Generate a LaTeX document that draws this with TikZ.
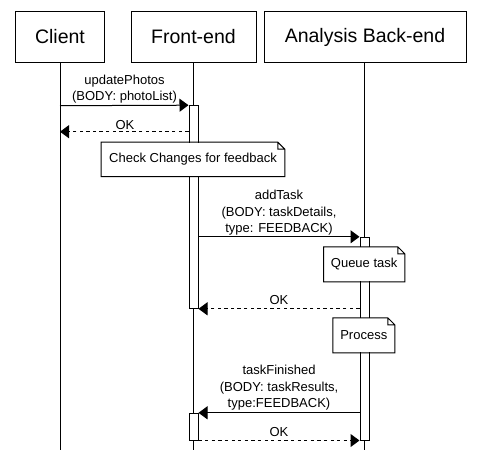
\documentclass[tikz,border=0pt]{standalone}
\usepackage{fontspec}
\setmainfont{Liberation Sans}
\usetikzlibrary{arrows.meta}
\begin{document}
\begin{tikzpicture}[x=1pt,y=-1pt, line width=1pt,
 head/.style={draw, fill=white, minimum height=50.6pt, inner sep=0pt, font=\fontsize{19.5}{22}\selectfont},
 act/.style={draw, fill=white, minimum width=9pt, inner sep=0pt},
 msg/.style={draw, -{Triangle[length=9pt,width=13pt]}},
 reply/.style={msg, dash pattern=on 3.3pt off 3.3pt},
 lbl/.style={font=\fontsize{13}{16.6}\selectfont, align=center, inner sep=0pt},
 notebox/.style={fill=white, inner sep=0pt, font=\fontsize{13}{16}\selectfont},
]
\useasboundingbox (0,0) rectangle (478,450);
% headers
\node[head, minimum width=89pt] (hc) at (60,37) {Client};
\node[head, minimum width=125pt] (hf) at (193.5,37) {Front-end};
\node[head, minimum width=202pt] (ha) at (365,37) {Analysis Back-end};
% lifeline ends
\coordinate (ec) at (60,450);
\coordinate (ef) at (193.5,450);
\coordinate (ea) at (364.5,450);
\draw (hc.south) -- (ec);
\draw (hf.south) -- (ef);
\draw (ha.south -| ea) -- (ea);
% activations
\node[act, minimum height=202.6pt] (fa1) at (193.5,207) {};
\node[act, minimum height=202.7pt] (aa) at (364.5,338.65) {};
\node[act, minimum height=26.7pt] (fa2) at (193.5,426.65) {};
% messages
\coordinate (c1) at (60,105.7);
\draw[msg] (c1) -- (fa1.north west);
\node[lbl] (l1) at (124.5,89) {updatePhotos\\(BODY: photoList)};
\coordinate (c2) at (60,131.7);
\draw[reply] (fa1.west |- c2) -- (c2);
\node[lbl] (l2) at (125,125) {OK};
% note 1
\node[notebox, minimum width=182.6pt, minimum height=33.3pt] (n1) at (193,159.35) {Check Changes for feedback};
% addTask
\draw[msg] (fa1.east |- aa.north) -- (aa.north west);
\node[lbl] (l3) at (279,213) {addTask\\(BODY: taskDetails,\\type: FEEDBACK)};
% note 2
\node[notebox, minimum width=80.3pt, minimum height=34pt] (n2) at (364.15,264.3) {Queue task};
% OK 2
\draw[reply] (aa.west |- fa1.south) -- (fa1.south east);
\node[lbl] (l4) at (279,300) {OK};
% note 3
\node[notebox, minimum width=61pt, minimum height=34pt] (n3) at (363.8,335.3) {Process};
% taskFinished
\draw[msg] (aa.west |- fa2.north) -- (fa2.north east);
\node[lbl] (l5) at (279,388) {taskFinished\\(BODY: taskResults,\\type:FEEDBACK)};
% OK 3
\draw[reply] (fa2.south east) -- (aa.south west);
\node[lbl] (l6) at (279,432) {OK};
% note outlines
\foreach \n in {n1,n2,n3}{
  \draw (\n.north west) -- ([xshift=-7pt]\n.north east) -- ([yshift=-7pt]\n.north east) -- (\n.south east) -- (\n.south west) -- cycle
        ([xshift=-7pt]\n.north east) -- ([xshift=-7pt,yshift=-7pt]\n.north east) -- ([yshift=-7pt]\n.north east);
}
\end{tikzpicture}
\end{document}
